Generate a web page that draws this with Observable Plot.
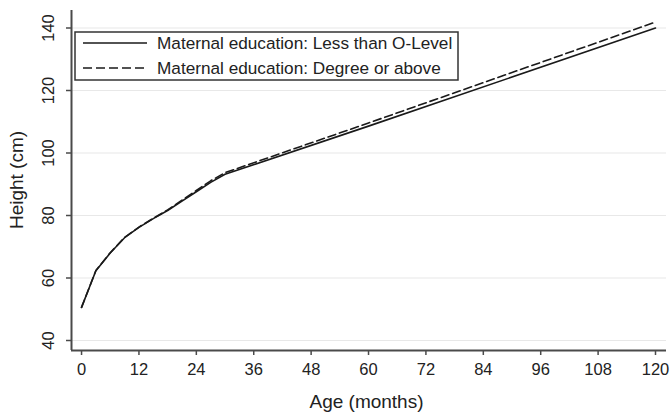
<!DOCTYPE html>
<html>
<head>
<meta charset="utf-8">
<script src="https://cdn.jsdelivr.net/npm/d3@7"></script>
<script src="https://cdn.jsdelivr.net/npm/@observablehq/plot@0.6"></script>
<style>
  html, body { margin: 0; padding: 0; background: #fff; }
  #chart { position: relative; width: 672px; height: 416px; }
  svg { font-family: "Liberation Sans", Arial, sans-serif; }
</style>
</head>
<body>
<div id="chart"></div>
<script>
// ---- data ----
const ages = [0, 3, 6, 9, 12, 15, 18, 21, 24, 27, 30, 60, 120];
const lessThanOLevel = [50.6, 62.3, 68.0, 72.9, 76.2, 79.0, 81.6, 84.6, 87.6, 90.6, 93.2, 108.6, 140.0];
const degreeOrAbove  = [50.6, 62.4, 68.1, 73.0, 76.3, 79.1, 81.8, 84.9, 88.0, 91.1, 93.7, 109.6, 141.9];
const seriesNames = ["Maternal education: Less than O-Level", "Maternal education: Degree or above"];
const xTicks = [0, 12, 24, 36, 48, 60, 72, 84, 96, 108, 120];
const yTicks = [40, 60, 80, 100, 120, 140];
const xTitle = "Age (months)";
const yTitle = "Height (cm)";

const rows = [
  ...ages.map((a, i) => ({age: a, h: lessThanOLevel[i], s: seriesNames[0]})),
  ...ages.map((a, i) => ({age: a, h: degreeOrAbove[i], s: seriesNames[1]}))
];

const xDomain = [-2.1, 122.3];
const yDomain = [36.8, 145.6];
const axisColor = "#4a4a4a";
const lineColor = "#1a1a1a";

const plot = Plot.plot({
  width: 672,
  height: 416,
  marginLeft: 71,
  marginRight: 6,
  marginTop: 10,
  marginBottom: 66,
  style: {fontFamily: "Liberation Sans, Arial, sans-serif", background: "#fff"},
  x: {domain: xDomain, label: null},
  y: {domain: yDomain, label: null},
  marks: [
    Plot.gridY(yTicks, {stroke: "#e8e8e8", strokeOpacity: 1, strokeWidth: 1.2}),
    Plot.axisX(xTicks, {tickSize: 5, tickPadding: 8, fontSize: 16.5, stroke: axisColor, strokeWidth: 1.5, color: "#222", label: null}),
    Plot.axisY(yTicks, {tickSize: 5, tickPadding: 18, fontSize: 16.5, tickRotate: -90, lineAnchor: "middle", textAnchor: "middle", stroke: axisColor, strokeWidth: 1.5, color: "#222", label: null}),
    Plot.ruleX([xDomain[0]], {stroke: axisColor, strokeWidth: 2}),
    Plot.ruleY([yDomain[0]], {stroke: axisColor, strokeWidth: 2}),
    Plot.line(rows.filter(d => d.s === seriesNames[0]), {x: "age", y: "h", stroke: lineColor, strokeWidth: 1.6}),
    Plot.line(rows.filter(d => d.s === seriesNames[1]), {x: "age", y: "h", stroke: lineColor, strokeWidth: 1.6, strokeDasharray: "8,4"})
  ]
});

document.getElementById("chart").appendChild(plot);

// axis titles and legend, positioned from the plot's scales
const sx = plot.scale("x"), sy = plot.scale("y");
const svg = d3.select(plot);
const [x0, x1] = sx.range;
const [yb, yt] = sy.range;

svg.append("text")
  .attr("x", (x0 + x1) / 2 - 2).attr("y", yb + 58)
  .attr("text-anchor", "middle")
  .attr("font-size", 19).attr("fill", "#222")
  .text(xTitle);

svg.append("text")
  .attr("transform", `translate(${x0 - 48},${(yb + yt) / 2}) rotate(-90)`)
  .attr("text-anchor", "middle")
  .attr("font-size", 19).attr("fill", "#222")
  .text(yTitle);

const lg = svg.append("g").attr("transform", `translate(${x0 + 4},${yt + 22})`);
lg.append("rect").attr("x", 0).attr("y", 0).attr("width", 383).attr("height", 48)
  .attr("fill", "#fff").attr("stroke", "#333").attr("stroke-width", 1.5);
seriesNames.forEach((name, i) => {
  const yy = 11 + i * 25;
  lg.append("line").attr("x1", 8).attr("x2", 72).attr("y1", yy).attr("y2", yy)
    .attr("stroke", lineColor).attr("stroke-width", 1.6)
    .attr("stroke-dasharray", i === 1 ? "9,4" : null);
  lg.append("text").attr("x", 82).attr("y", yy).attr("dy", "0.36em")
    .attr("text-anchor", "start")
    .attr("font-size", 17.2).attr("fill", "#222").text(name);
});
</script>
</body>
</html>
